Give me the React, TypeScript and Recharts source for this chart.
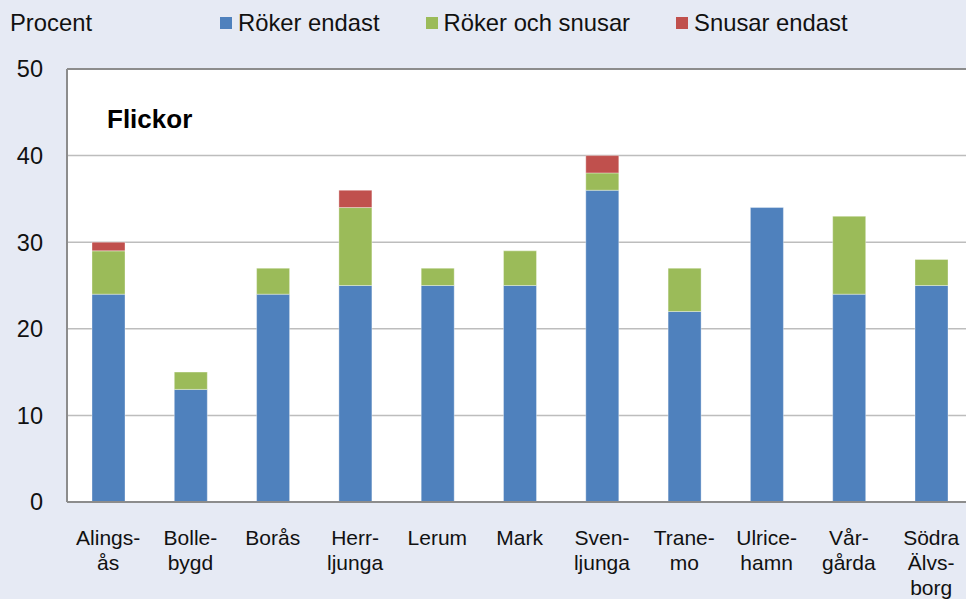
import React from 'react'
import { BarChart, Bar, XAxis, YAxis, CartesianGrid, ReferenceLine } from 'recharts'

const categories = [
  'Alings-\nås',
  'Bolle-\nbygd',
  'Borås',
  'Herr-\nljunga',
  'Lerum',
  'Mark',
  'Sven-\nljunga',
  'Trane-\nmo',
  'Ulrice-\nhamn',
  'Vår-\ngårda',
  'Södra\nÄlvs-\nborg',
]
const rokerEndast = [24, 13, 24, 25, 25, 25, 36, 22, 34, 24, 25]
const rokerOchSnusar = [5, 2, 3, 9, 2, 4, 2, 5, 0, 9, 3]
const snusarEndast = [1, 0, 0, 2, 0, 0, 2, 0, 0, 0, 0]
const yTicks = [0, 10, 20, 30, 40, 50]

const seriesNames = ['Röker endast', 'Röker och snusar', 'Snusar endast']
const colors = ['#4F81BD', '#9BBB59', '#C0504D']

const FONT = '"Liberation Sans", Arial, Helvetica, sans-serif'

const data = categories.map((name, i) => ({
  name,
  a: rokerEndast[i],
  b: rokerOchSnusar[i],
  c: snusarEndast[i],
}))

const CategoryTick = (props: any) => {
  const { x, y, payload } = props
  const lines = String(payload.value).split('\n')
  return (
    <g transform={`translate(${x},${y})`}>
      <text textAnchor="middle" fill="#111" fontSize={21} fontFamily={FONT}>
        {lines.map((line, i) => (
          <tspan key={i} x={0} dy={i === 0 ? 43 : 25}>
            {line}
          </tspan>
        ))}
      </text>
    </g>
  )
}

// legend sits above the plot, drawn outside the chart so it does not push the plot down
const TopLegend = () => (
  <div style={{ position: 'absolute', left: 0, top: 0, width: 966, height: 40, fontFamily: FONT, fontSize: 23.8, color: '#111' }}>
    <span style={{ position: 'absolute', left: 10, top: 9 }}>Procent</span>
    <div style={{ position: 'absolute', left: 220, top: 9, display: 'flex', alignItems: 'center' }}>
      {seriesNames.map((n, i) => (
        <div key={n} style={{ display: 'flex', alignItems: 'center', marginRight: 46 }}>
          <span style={{ width: 12, height: 12, background: colors[i], marginRight: 6, display: 'inline-block' }} />
          <span>{n}</span>
        </div>
      ))}
    </div>
  </div>
)

export default function App() {
  return (
    <div
      style={{
        position: 'absolute',
        left: 0,
        top: 0,
        width: 966,
        height: 599,
        overflow: 'hidden',
        background: '#E6EAF4',
      }}
    >
      <BarChart
        width={990}
        height={599}
        data={data}
        margin={{ top: 69, right: 17.7, bottom: 0, left: 0 }}
        barSize={33}
      >
        <CartesianGrid vertical={false} stroke="#BDBDBD" strokeWidth={1.5} fill="#FFFFFF" />
        <ReferenceLine y={50} stroke="#8C8C8C" strokeWidth={2} />
        <XAxis
          dataKey="name"
          interval={0}
          height={97}
          tick={<CategoryTick />}
          tickLine={false}
          tickSize={0}
          tickMargin={0}
          axisLine={{ stroke: '#8C8C8C', strokeWidth: 2 }}
        />
        <YAxis
          domain={[0, 50]}
          ticks={yTicks}
          width={67}
          tickLine={false}
          tickSize={0}
          tickMargin={24}
          axisLine={{ stroke: '#8C8C8C', strokeWidth: 2 }}
          tick={{ fill: '#111', fontSize: 23.5, fontFamily: FONT }}
        />
        <Bar dataKey="a" name={seriesNames[0]} stackId="s" fill={colors[0]} stroke="rgba(255,255,255,0.35)" strokeWidth={1} isAnimationActive={false} />
        <Bar dataKey="b" name={seriesNames[1]} stackId="s" fill={colors[1]} stroke="rgba(255,255,255,0.35)" strokeWidth={1} isAnimationActive={false} />
        <Bar dataKey="c" name={seriesNames[2]} stackId="s" fill={colors[2]} stroke="rgba(255,255,255,0.35)" strokeWidth={1} isAnimationActive={false} />
        <text x={107} y={128} fontSize={26} fontWeight="bold" fontFamily={FONT} fill="#000">
          Flickor
        </text>
      </BarChart>
      <TopLegend />
    </div>
  )
}
